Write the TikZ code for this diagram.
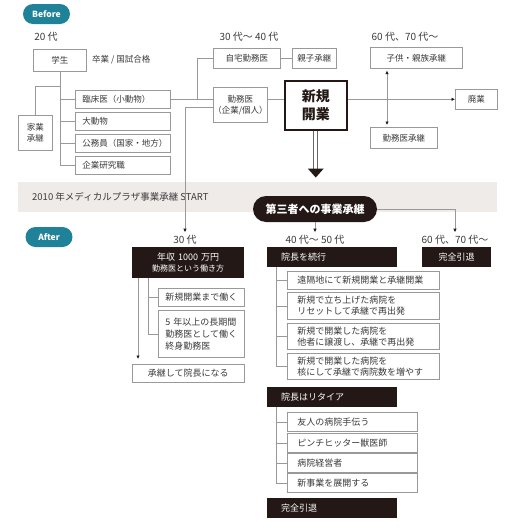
\documentclass[tikz,border=0pt]{standalone}
\usepackage{fontspec}
\setmainfont{Noto Sans CJK JP}
\usetikzlibrary{arrows.meta,calc}
\definecolor{txtgray}{HTML}{3A3A3A}
\definecolor{linegray}{HTML}{999999}
\definecolor{darkbrown}{HTML}{231815}
\definecolor{pillteal}{HTML}{1F8299}
\definecolor{bandgray}{HTML}{EFEBE9}
\begin{document}
\begin{tikzpicture}[x=1pt,y=-1pt,
  every node/.style={font=\fontsize{8.5}{11}\selectfont,text=txtgray,inner sep=0pt},
  box/.style={draw=linegray,line width=0.6pt,fill=white,anchor=north west,align=center},
  lbox/.style={box,align=left,inner xsep=10pt,text width=#1,font=\fontsize{9}{11}\selectfont},
  dark/.style={fill=darkbrown,text=white,anchor=north west,align=left,inner xsep=14pt,text width=#1,font=\fontsize{9}{11}\selectfont},
  pill/.style={fill=pillteal,text=white,rounded corners=10pt,minimum width=47pt,minimum height=20pt,font=\fontsize{8.5}{8.5}\selectfont\bfseries},
  age/.style={font=\fontsize{10}{10}\selectfont},
  ln/.style={draw=linegray,line width=0.6pt},
  arr/.style={ln,-{Latex[length=3.5pt,width=3.5pt,color=darkbrown]}},
]
\useasboundingbox (0,0) rectangle (512,528);
% Before
\node[pill] (before) at (46.5,14) {Before};
\node[age] (age20) at (46,37) {20 代};
\node[box,minimum width=53pt,minimum height=22pt] (student) at (33,49) {学生};
\node[anchor=west] (pass) at (92,60) {卒業 / 国試合格};
\node[box,align=left,inner xsep=7pt,text width=81pt,minimum height=18pt] (clinic) at (75,90) {臨床医（小動物）};
\node[box,align=left,inner xsep=7pt,text width=81pt,minimum height=18pt] (large) at (75,112) {大動物};
\node[box,align=left,inner xsep=7pt,text width=81pt,minimum height=18pt] (civil) at (75,134) {公務員（国家・地方）};
\node[box,align=left,inner xsep=7pt,text width=81pt,minimum height=18pt] (corp) at (75,156) {企業研究職};
\node[box,minimum width=34pt,minimum height=35pt] (family) at (18,115) {家業\\承継};
\coordinate (fork) at ($(student.south)+(0,15)$);
\draw[ln] (student.south) |- (corp.west);
\foreach \n in {clinic,large,civil} \draw[ln] (student.south |- \n.west) -- (\n.west);
\draw[ln] (fork) -| (family.north);
% 30-40
\node[age] (age3040) at (249,37) {30 代～ 40 代};
\node[box,minimum width=67pt,minimum height=20pt] (home) at (213,48) {自宅勤務医};
\node[box,minimum width=44pt,minimum height=20pt] (parent) at (292,48) {親子承継};
\node[box,minimum width=52pt,minimum height=35pt] (emp) at (213,87) {勤務医\\（企業/個人）};
\node[box,draw=darkbrown,line width=1.5pt,minimum width=62pt,minimum height=49pt,
  font=\fontsize{14}{18}\selectfont\bfseries,text=darkbrown] (open) at (284,80) {新規\\開業};
\coordinate (junc) at ($(clinic.east -| home.west)+(-16,0)$);
\draw[ln] (clinic.east) -- (clinic.east -| emp.west);
\draw[ln] (junc) |- (home.west);
\draw[ln] (home.east) -- (parent.west);
\draw[ln] (emp.east |- clinic.east) -- (open.west |- clinic.east);
% 60-70
\node[age] (age6070) at (405,37) {60 代、70 代～};
\node[box,minimum width=92pt,minimum height=21pt] (child) at (370,47) {子供・親族承継};
\node[box,minimum width=42pt,minimum height=20pt] (closed) at (455,89) {廃業};
\node[box,minimum width=67pt,minimum height=21pt] (empSucc) at (370,127) {勤務医承継};
\draw[arr] (open.east |- closed.west) -- (closed.west);
\draw[ln,{Latex[length=3.5pt,width=3.5pt,color=darkbrown]}-{Latex[length=3.5pt,width=3.5pt,color=darkbrown]}]
  ($(child.south west)+(17,2)$) -- ($(empSucc.north west)+(17,-2)$);
% band
\node[fill=bandgray,minimum width=479pt,minimum height=30pt,anchor=north west] (band) at (18,182) {};
\node[anchor=west,font=\fontsize{9.5}{10}\selectfont] (start) at (32,197) {2010 年メディカルプラザ事業承継 START};
\coordinate (tip) at ($(open.south)+(0,38)$);
\draw[line width=0.6pt,draw=black!60] ($(open.south)+(-2,0)$) -- ($(tip)+(-2,0)$);
\draw[line width=0.6pt,draw=black!60] ($(open.south)+(2,0)$) -- ($(tip)+(2,0)$);
\fill[darkbrown] ($(tip)+(-8,0)$) -- ($(tip)+(8,0)$) -- ($(tip)+(0,9)$) -- cycle;
% After
\node[pill] (after) at (49,237) {After};
\node[fill=darkbrown,text=white,rounded corners=13pt,minimum width=124pt,minimum height=26pt,
  font=\fontsize{11}{11}\selectfont\bfseries] (third) at (315,209) {第三者への事業承継};
\node[age] (age30) at (185,240) {30 代};
\node[age] (age4050) at (315,240) {40 代～ 50 代};
\node[age] (age6070b) at (455,240) {60 代、70 代～};
\draw[arr,shorten >=3pt] ($(emp.west)+(0,2.5)$) -| (age30.north);
\draw[arr,shorten >=3pt] (third.south) -- (age4050.north);
\draw[arr,shorten >=3pt] (third.east) -| (age6070b.north);
% 30
\node[dark=84pt,align=center,minimum height=31pt] (income) at (132,247) {年収 1000 万円\\{\fontsize{8}{10}\selectfont 勤務医という働き方}};
\node[lbox=72pt,inner xsep=7pt,minimum height=18pt] (work1) at (158,288) {新規開業まで働く};
\node[lbox=72pt,inner xsep=7pt,minimum height=47pt,font=\fontsize{9}{12}\selectfont] (work2) at (158,310) {5 年以上の長期間\\勤務医として働く\\終身勤務医};
\node[box,minimum width=112pt,minimum height=18pt,font=\fontsize{9}{11}\selectfont] (director) at (132,364) {承継して院長になる};
\coordinate (incA) at ($(income.south west)+(16,0)$);
\draw[arr] ($(income.south west)+(6,0)$) -- ($(director.north west)+(6,-5)$);
\draw[ln] (incA) |- (work2.west);
\draw[ln] (incA |- work1.west) -- (work1.west);
% 40-50
\node[dark=102pt,minimum height=20pt] (keep) at (267,247) {院長を続行};
\node[lbox=132pt,minimum height=18pt] (c1) at (287,271) {遠隔地にて新規開業と承継開業};
\node[lbox=132pt,minimum height=27pt] (c2) at (287,292) {新規で立ち上げた病院を\\リセットして承継で再出発};
\node[lbox=132pt,minimum height=26pt] (c3) at (287,323) {新規で開業した病院を\\他者に譲渡し、承継で再出発};
\node[lbox=132pt,minimum height=26pt] (c4) at (287,353) {新規で開業した病院を\\核にして承継で病院数を増やす};
\coordinate (keepA) at ($(keep.south west)+(9,0)$);
\draw[ln] (keepA) |- (c4.west);
\foreach \n in {c1,c2,c3} \draw[ln] (keepA |- \n.west) -- (\n.west);
\node[dark=102pt,minimum height=20pt] (retire) at (267,387) {院長はリタイア};
\node[lbox=110pt,minimum height=19pt] (r1) at (287,412) {友人の病院手伝う};
\node[lbox=110pt,minimum height=19pt] (r2) at (287,433) {ピンチヒッター獣医師};
\node[lbox=110pt,minimum height=19pt] (r3) at (287,453) {病院経営者};
\node[lbox=110pt,minimum height=19pt] (r4) at (287,473) {新事業を展開する};
\coordinate (retA) at ($(retire.south west)+(9,0)$);
\draw[ln] (retA) |- (r4.west);
\foreach \n in {r1,r2,r3} \draw[ln] (retA |- \n.west) -- (\n.west);
\node[dark=102pt,minimum height=20pt] (fullRetire) at (267,498) {完全引退};
% 60-70
\node[dark=41pt,align=center,minimum height=20pt] (retired) at (422,247) {完全引退};
\end{tikzpicture}
\end{document}
